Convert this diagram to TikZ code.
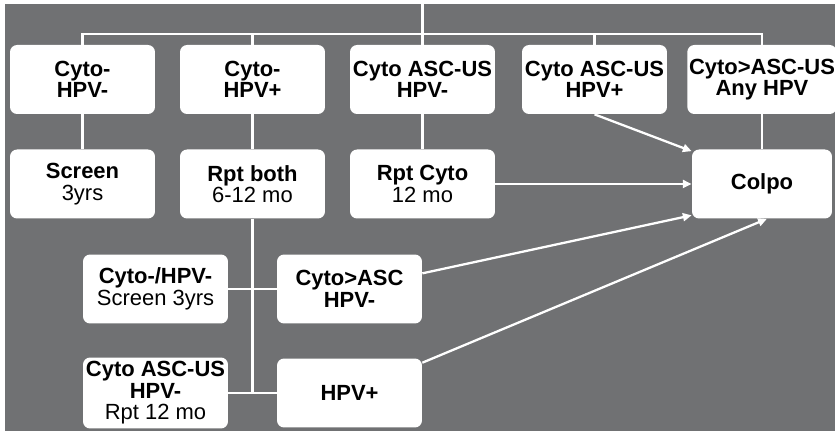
\documentclass[tikz,border=0pt]{standalone}
\usepackage{fontspec}
\setmainfont{Liberation Sans}
\usetikzlibrary{arrows.meta,positioning}
\definecolor{panelgray}{HTML}{707173}

\begin{document}
\begin{tikzpicture}[x=0.02cm,y=-0.02cm,>={Triangle[length=5pt,width=4.5pt]},
 font=\fontsize{12.5}{12.2}\selectfont\bfseries,
 box/.style={fill=white,rounded corners=4pt,align=center,minimum width=2.9cm,minimum height=1.38cm,inner sep=1pt},
 link/.style={draw=white,line width=1.6pt},
 flow/.style={->,white,line width=1.3pt}]
\useasboundingbox (0,0) rectangle (835,431);
\fill[panelgray] (5,4) rectangle (835,431);
% first results
\node[box] (c1) at (82.5,79.5) {Cyto-\\HPV-};
\node[box] (c2) at (252.5,79.5) {Cyto-\\HPV+};
\node[box] (c3) at (422.5,79.5) {Cyto ASC-US\\HPV-};
\node[box] (c4) at (594.5,79.5) {Cyto ASC-US\\HPV+};
\node[box,minimum width=2.8cm] (c5) at (762,79.5) {Cyto>ASC-US\\Any HPV};
% actions
\node[box] (s1) at (82.5,184) {Screen\\\mdseries 3yrs};
\node[box] (rb) at (252.5,184) {Rpt both\\\mdseries 6-12 mo};
\node[box] (rc) at (422.5,184) {Rpt Cyto\\\mdseries 12 mo};
\node[box,minimum width=2.8cm] (colpo) at (762,184) {Colpo};
% repeat results
\node[box] (neg) at (155.5,289) {Cyto-/HPV-\\\mdseries Screen 3yrs};
\node[box] (asc) at (349.5,289) {Cyto>ASC\\HPV-};
\node[box,minimum height=1.42cm] (rpt) at (155.5,393) {Cyto ASC-US\\HPV-\\\mdseries Rpt 12 mo};
\node[box] (hpvp) at (349.5,393) {HPV+};
\coordinate (top) at (422.5,4);
\coordinate (bus) at (422.5,34);
\draw[link] (top) -- (c3.north);
\draw[link] (c1.north) |- (bus) -| (c5.north);
\draw[link] (c2.north) -- (c2.north |- bus);
\draw[link] (c4.north) -- (c4.north |- bus);
\draw[link] (c1) -- (s1);
\draw[link] (c2) -- (rb);
\draw[link] (c3) -- (rc);
\draw[link] (c5) -- (colpo);
\draw[link] (rb.south) -- (rb.south |- hpvp);
\draw[link] (neg) -- (asc);
\draw[link] (rpt) -- (hpvp);
\draw[flow] (c4.south) -- (colpo.155);
\draw[flow] (rc) -- (colpo);
\draw[flow] (asc) -- (colpo.204);
\draw[flow] (hpvp) -- (colpo.-82);
\end{tikzpicture}
\end{document}
